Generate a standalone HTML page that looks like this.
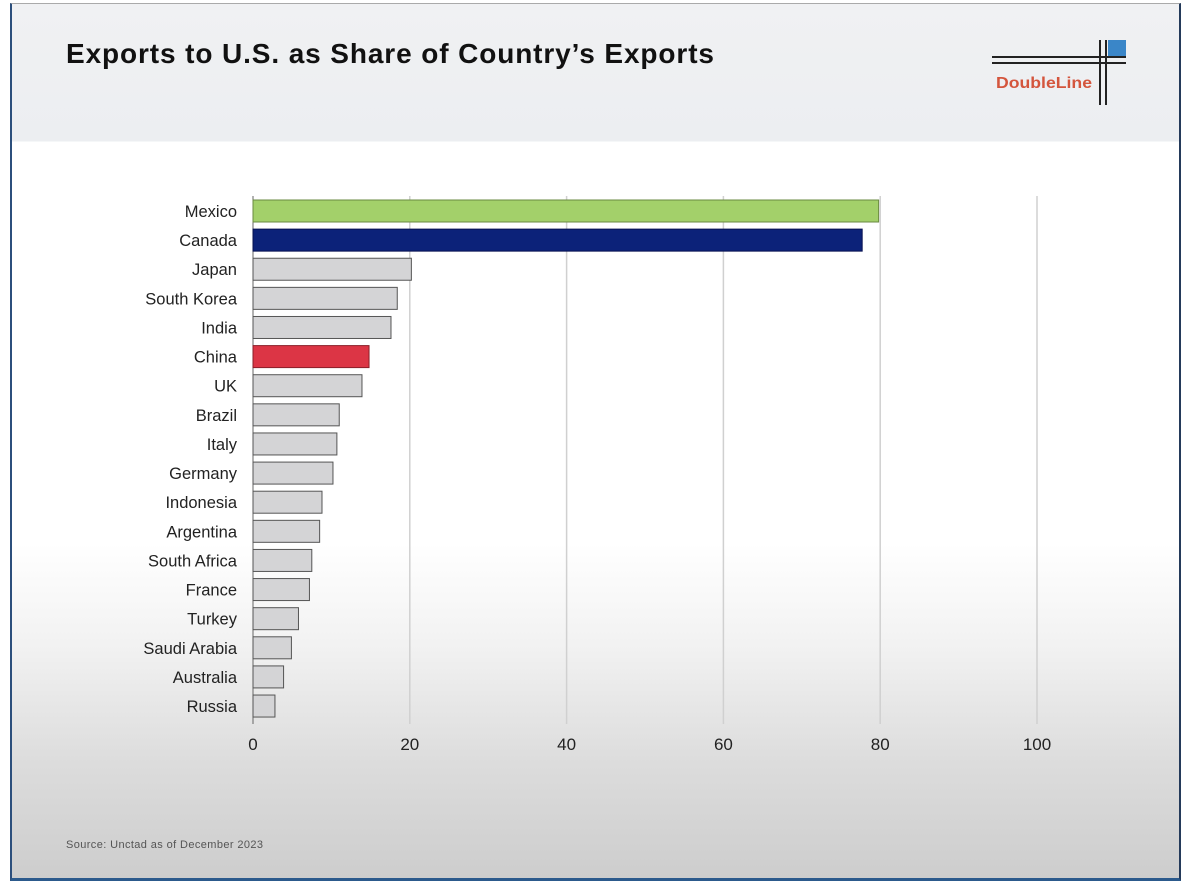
<!DOCTYPE html>
<html><head><meta charset="utf-8"><style>
html,body{margin:0;padding:0;width:1190px;height:886px;overflow:hidden;background:#fff;font-family:"Liberation Sans",sans-serif}
#frame{position:absolute;left:10px;top:3px;width:1167px;height:874px;border-left:2px solid #2c4f7c;border-bottom:3px solid #2c5a8c;border-right:2px solid #243a5a;border-top:1px solid #aaa;
background:linear-gradient(to bottom,#f0f1f3 0px,#eceef1 137px,#fff 138px,#fff 540px,#f2f2f2 640px,#dcdcdc 760px,#cdcdcd 874px)}
</style></head><body>
<div id="frame"></div>
<svg width="1190" height="886" style="position:absolute;left:0;top:0">
<text x="66" y="63" font-size="28" font-weight="bold" fill="#111" textLength="648" lengthAdjust="spacing">Exports to U.S. as Share of Country’s Exports</text>
<g>
<rect x="1108" y="40" width="18" height="18" fill="#3a86c8"/>
<line x1="992" y1="57" x2="1126" y2="57" stroke="#222" stroke-width="2"/>
<line x1="992" y1="63" x2="1126" y2="63" stroke="#222" stroke-width="2"/>
<line x1="1100" y1="40" x2="1100" y2="105" stroke="#222" stroke-width="2"/>
<line x1="1106" y1="40" x2="1106" y2="105" stroke="#222" stroke-width="2"/>
<text x="996" y="88" font-size="16" font-weight="bold" fill="#d4553d" textLength="96" lengthAdjust="spacingAndGlyphs">DoubleLine</text>
</g>
<g id="grid"></g><g id="bars"></g><g id="labels"></g><g id="ticks"></g>
<text x="66" y="848" font-size="11" fill="#555" textLength="197" lengthAdjust="spacing">Source: Unctad as of December 2023</text>
</svg>
<script>
const categories=["Mexico","Canada","Japan","South Korea","India","China","UK","Brazil","Italy","Germany","Indonesia","Argentina","South Africa","France","Turkey","Saudi Arabia","Australia","Russia"];
const values=[79.8,77.7,20.2,18.4,17.6,14.8,13.9,11,10.7,10.2,8.8,8.5,7.5,7.2,5.8,4.9,3.9,2.8];
const tickValues=[0,20,40,60,80,100];
const NS="http://www.w3.org/2000/svg";
const x=v=>253+v*7.84;
const y=i=>211+i*29.12;
const colorFor=c=>c==="Mexico"?["#a3d06a","#6a8a40"]:c==="Canada"?["#0c2279","#061050"]:c==="China"?["#dc3545","#8a1e28"]:["#d4d4d6","#555"];
function mk(tag,attrs,parent){const e=document.createElementNS(NS,tag);for(const k in attrs)e.setAttribute(k,attrs[k]);document.getElementById(parent).appendChild(e);return e;}
tickValues.forEach(t=>{
 if(t>0){const g=mk("line",{x1:x(t),x2:x(t),y1:196,y2:724,stroke:"#d0d0d0","stroke-width":1.5},"grid");
 
 }
 const tl=mk("text",{x:x(t),y:750,"font-size":17,fill:"#222","text-anchor":"middle"},"ticks");
 tl.textContent=t;
 
 
});
mk("line",{x1:253,x2:253,y1:196,y2:724,stroke:"#666","stroke-width":1},"grid");
categories.forEach((c,i)=>{
 const [f,s]=colorFor(c);
 const r=mk("rect",{x:253,y:y(i)-11,width:x(values[i])-253,height:22,fill:f,stroke:s,"stroke-width":1},"bars");
 
 
 const t=mk("text",{x:237,y:y(i)+6,"font-size":16.5,fill:"#222","text-anchor":"end"},"labels");
 t.textContent=c;
 
 
});
</script>
</body></html>
